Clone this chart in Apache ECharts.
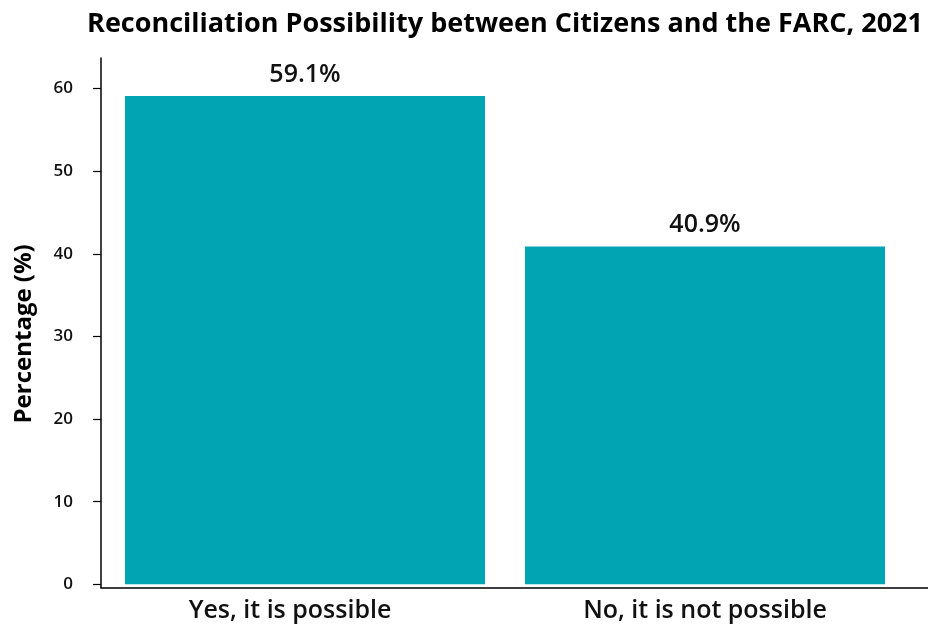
<!DOCTYPE html>
<html>
<head>
<meta charset="utf-8">
<script src="https://cdn.jsdelivr.net/npm/echarts@6/dist/echarts.min.js"></script>
<style>
html,body{margin:0;padding:0;background:#fff;}
#chart{width:928px;height:624px;}
</style>
</head>
<body>
<div id="chart"></div>
<script>
const categories = ["Yes, it is possible", "No, it is not possible"];
const values = [59.1, 40.9];
const yTicks = [0, 10, 20, 30, 40, 50, 60];
const titleText = "Reconciliation Possibility between Citizens and the FARC, 2021";
const yName = "Percentage (%)";

const FONT = "'Open Sans', 'Noto Sans', sans-serif";
const chart = echarts.init(document.getElementById('chart'), null, {renderer: 'canvas'});

const catPositions = categories.map((c, i) => i);

chart.setOption({
  animation: false,
  backgroundColor: '#ffffff',
  title: {
    text: titleText,
    left: 500,
    textAlign: 'center',
    top: 6,
    textStyle: {fontFamily: FONT, fontSize: 27, fontWeight: 'bold', color: '#000'}
  },
  grid: {left: 101, right: 0, top: 58, bottom: 36.3},
  xAxis: {
    type: 'value',
    min: -0.51,
    max: 1.5575,
    splitLine: {show: false},
    axisLine: {show: true, onZero: false, lineStyle: {color: '#000', width: 1.5}},
    axisTick: {show: false},
    axisLabel: {
      customValues: catPositions,
      margin: 11,
      fontFamily: FONT, fontSize: 25, fontWeight: 600, color: '#111',
      formatter: function (v) {
        const i = Math.round(v);
        if (i === 0) return '{a|' + categories[i] + '}';
        return categories[i] || '';
      },
      rich: {a: {fontFamily: FONT, fontSize: 25, fontWeight: 600, color: '#111', padding: [0, 30, 0, 0]}}
    }
  },
  yAxis: {
    type: 'value',
    min: -0.41,
    max: 63.7,
    name: yName,
    nameLocation: 'middle',
    nameGap: 83,
    nameRotate: 90,
    nameTextStyle: {fontFamily: FONT, fontSize: 24, fontWeight: 'bold', color: '#000', padding: [0, 22, -18, 0]},
    splitLine: {show: false},
    axisLine: {show: true, onZero: false, lineStyle: {color: '#000', width: 1.5}},
    axisTick: {show: true, customValues: yTicks, length: 8, lineStyle: {color: '#000', width: 1.2}},
    axisLabel: {
      customValues: yTicks,
      margin: 28,
      fontFamily: FONT, fontSize: 17, fontWeight: 600, color: '#111'
    }
  },
  series: [{
    type: 'bar',
    data: values.map((v, i) => [i, v]),
    barWidth: 360,
    itemStyle: {color: '#01A4B3'},
    label: {
      show: true,
      position: 'top',
      distance: 9,
      formatter: p => p.value[1].toFixed(1) + '%',
      fontFamily: FONT, fontSize: 25, fontWeight: 600, color: '#111'
    }
  }]
});
</script>
</body>
</html>
